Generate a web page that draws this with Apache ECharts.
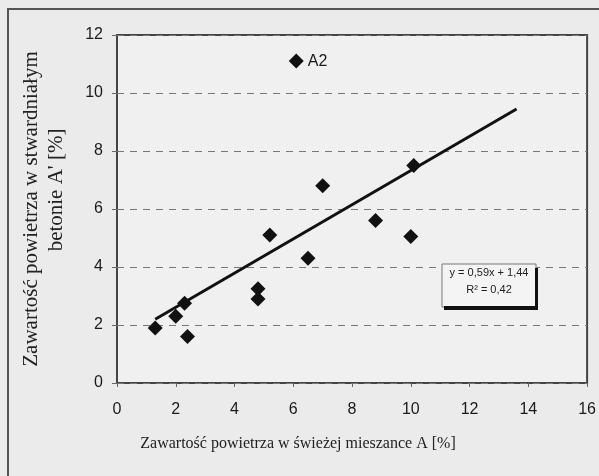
<!DOCTYPE html>
<html>
<head>
<meta charset="utf-8">
<script src="https://cdn.jsdelivr.net/npm/echarts@6/dist/echarts.min.js"></script>
<style>
    html, body { margin: 0; padding: 0; background: #ebebeb; }
    #main { width: 599px; height: 476px; }
</style>
</head>
<body>
<div id="main"></div>
<script>
// punkty pomiarowe: A (świeża mieszanka) i A' (stwardniały beton)
var airFresh    = [1.3, 2.0, 2.3, 2.4, 4.8, 4.8, 5.2, 6.1, 6.5, 7.0, 8.8, 10.0, 10.1];
var airHardened = [1.9, 2.3, 2.75, 1.6, 3.25, 2.9, 5.1, 11.1, 4.3, 6.8, 5.6, 5.05, 7.5];
var pointNames  = ['', '', '', '', '', '', '', 'A2', '', '', '', '', ''];

// linia trendu (końce)
var trendX = [1.3, 13.6];
var trendY = [2.2, 9.45];

var xTicks = [0, 2, 4, 6, 8, 10, 12, 14, 16];
var yTicks = [0, 2, 4, 6, 8, 10, 12];

var eqText = ['y = 0,59x + 1,44', 'R\u00b2 = 0,42'];

var points = airFresh.map(function (x, i) { return [x, airHardened[i], pointNames[i]]; });
var trend = trendX.map(function (x, i) { return [x, trendY[i]]; });

var tickFont = { fontFamily: 'Liberation Sans', fontSize: 16, color: '#1a1a1a' };
var titleFont = 'Liberation Serif';

var myChart = echarts.init(document.getElementById('main'));
myChart.setOption({
    backgroundColor: '#ebebeb',
    animation: false,
    grid: {
        left: 117, right: 11, top: 35, bottom: 93,
        show: true, borderColor: '#444', borderWidth: 2, backgroundColor: '#f0f0f0'
    },
    xAxis: {
        type: 'value', min: xTicks[0], max: xTicks[xTicks.length - 1], interval: 2,
        axisLine: { show: false },
        axisTick: { show: true, length: 4, lineStyle: { color: '#666' } },
        splitLine: { show: false },
        axisLabel: Object.assign({ margin: 19 }, tickFont)
    },
    yAxis: {
        type: 'value', min: yTicks[0], max: yTicks[yTicks.length - 1], interval: 2,
        axisLine: { show: false },
        axisTick: { show: true, length: 5, lineStyle: { color: '#666' } },
        splitLine: { show: true, lineStyle: { color: '#777', type: [7, 6], width: 1 } },
        axisLabel: Object.assign({ margin: 14 }, tickFont)
    },
    series: [
        {
            type: 'line',
            data: trend,
            symbol: 'none',
            lineStyle: { color: '#111', width: 3 },
            z: 3
        },
        {
            type: 'scatter',
            data: points,
            symbol: 'diamond',
            symbolSize: [15, 15],
            itemStyle: { color: '#111', opacity: 1 },
            label: {
                show: true, position: 'right', distance: 4,
                formatter: function (p) { return p.data[2]; },
                fontFamily: 'Liberation Sans', fontSize: 16, color: '#1a1a1a'
            },
            z: 4
        }
    ],
    graphic: [
        // ramka całego rysunku
        { type: 'rect', shape: { x: 8, y: 9, width: 620, height: 500 },
          style: { fill: null, stroke: '#555', lineWidth: 2 }, silent: true },
        // tytuł osi X
        { type: 'text', x: 298, y: 444,
          style: { text: 'Zawartość powietrza w świeżej mieszance A [%]', font: '16px ' + titleFont,
                   fill: '#222', textAlign: 'center', textVerticalAlign: 'middle' } },
        // tytuł osi Y (dwie linie)
        { type: 'text', x: 31, y: 209, rotation: Math.PI / 2,
          style: { text: 'Zawartość powietrza w stwardniałym', font: '21px ' + titleFont,
                   fill: '#222', textAlign: 'center', textVerticalAlign: 'middle' } },
        { type: 'text', x: 56, y: 190, rotation: Math.PI / 2,
          style: { text: "betonie A' [%]", font: '21px ' + titleFont,
                   fill: '#222', textAlign: 'center', textVerticalAlign: 'middle' } },
        // ramka z równaniem
        { type: 'rect', shape: { x: 442, y: 264, width: 94, height: 43 },
          style: { fill: '#f4f4f4', stroke: '#777', lineWidth: 1 }, z: 10 },
        { type: 'rect', shape: { x: 535, y: 268, width: 3, height: 38 },
          style: { fill: '#111' }, z: 11 },
        { type: 'rect', shape: { x: 444, y: 306, width: 94, height: 4 },
          style: { fill: '#111' }, z: 11 },
        { type: 'text', x: 489, y: 273, z: 12,
          style: { text: eqText[0], font: '11px Liberation Sans', fill: '#222',
                   textAlign: 'center', textVerticalAlign: 'middle' } },
        { type: 'text', x: 489, y: 290, z: 12,
          style: { text: eqText[1], font: '11px Liberation Sans', fill: '#222',
                   textAlign: 'center', textVerticalAlign: 'middle' } }
    ]
});
</script>
</body>
</html>
